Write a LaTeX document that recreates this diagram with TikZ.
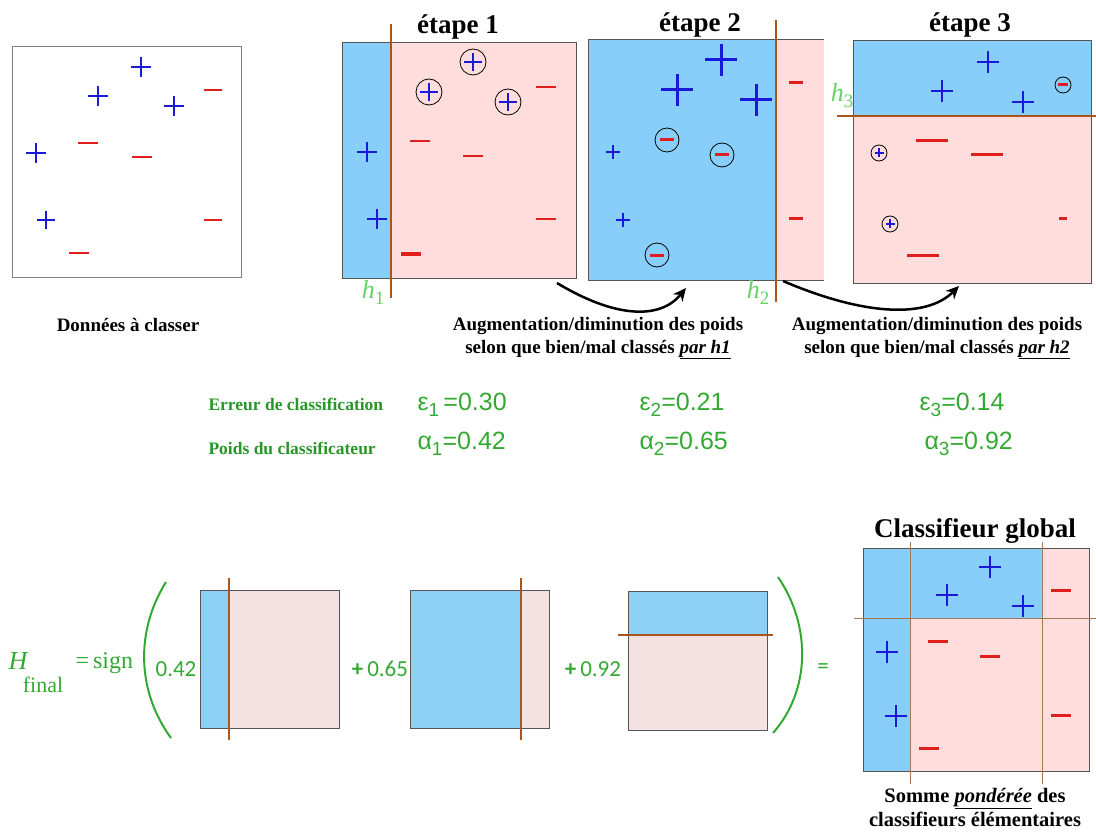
\documentclass[tikz,border=0pt]{standalone}
\usepackage{fontspec}
\setmainfont{Liberation Serif}
\setsansfont{Liberation Sans}
\newfontfamily\carl{Carlito}
\usetikzlibrary{arrows.meta}
\definecolor{pblue}{RGB}{25,25,215}
\definecolor{mred}{RGB}{225,30,30}
\definecolor{fblue}{RGB}{135,206,250}
\definecolor{fpink}{RGB}{255,221,221}
\definecolor{fblueb}{RGB}{140,208,245}
\definecolor{fpinkb}{RGB}{244,226,226}
\definecolor{hbrown}{RGB}{170,85,30}
\definecolor{tgreen}{RGB}{40,150,40}
\definecolor{fgreen}{RGB}{50,170,50}
\definecolor{hgreen}{RGB}{100,210,100}
\definecolor{bord}{RGB}{85,85,85}
\newcommand\mypl[4]{\draw[pblue,line width=#4pt] (#1-#3,#2) -- (#1+#3,#2) (#1,#2-#3) -- (#1,#2+#3);}
\newcommand\mymi[4]{\draw[mred,line width=#4pt] (#1-#3,#2) -- (#1+#3,#2);}
\newcommand\mycir[3]{\draw[black,line width=0.8pt] (#1,#2) circle (#3pt);}
\begin{document}
\begin{tikzpicture}[x=1pt,y=-1pt,
  boxb/.style={draw=bord,line width=1pt},
  hyp/.style={hbrown,line width=2.5pt},
  thinhyp/.style={draw={rgb,255:red,165;green,120;blue,90},line width=1pt},
  ttl/.style={font=\fontsize{27}{30}\selectfont\bfseries},
  captxt/.style={font=\fontsize{19}{23}\selectfont\bfseries,align=center},
  hlab/.style={text=hgreen,font=\fontsize{26}{28}\selectfont},
  glab/.style={text=tgreen,font=\fontsize{17.5}{20}\selectfont\bfseries,anchor=west},
  gval/.style={text=fgreen,font=\sffamily\fontsize{25}{28}\selectfont,anchor=west},
  formtxt/.style={text=fgreen,font=\carl\fontsize{23}{26}\selectfont},
  arr/.style={black,line width=2.5pt,-{Stealth[length=13pt,width=12pt]}},
  paren/.style={fgreen,line width=2pt}]
\useasboundingbox (0,0) rectangle (1096,832);

% ---------- Données à classer
\draw[draw={rgb,255:red,130;green,130;blue,130},line width=1pt] (12,47) rectangle (241,277);
\draw[pblue,line width=1.2pt] (131,67) -- (151,67) (141,57) -- (141,77);
\mypl{98}{96}{10}{2.5}
\mypl{174}{106}{10}{2.5}
\mypl{36}{153}{10}{2.5}
\mypl{46}{220}{9}{2.2}
\mymi{213}{90}{9}{2.2}
\mymi{88}{143}{10}{1.8}
\mymi{142}{157}{10}{2.8}
\mymi{213}{220}{9}{1.8}
\mymi{79}{253}{10}{2.2}
\node[captxt] (lbl0) at (128,325) {Données à classer};

% ---------- étape 1
\fill[fblue] (342,43) rectangle (391,278);
\fill[fpink] (391,43) rectangle (576,278);
\draw[boxb] (342,43) rectangle (576,278);
\draw[hyp] (391,24) -- (391,298);
\node[ttl] (t1) at (458,27) {étape 1};
\node[hlab] (h1) at (373,292) {\textit{h}\raisebox{-6pt}{\fontsize{19}{19}\selectfont 1}};
\mycir{473}{62}{13}\mypl{473}{62}{9}{2.5}
\mycir{429}{92}{13}\mypl{429}{92}{9}{2.5}
\mycir{508}{102}{13}\mypl{508}{102}{9}{2.5}
\mypl{367}{152}{10}{2.5}
\mypl{377}{219}{10}{2.5}
\mymi{546}{87}{10}{2.5}
\mymi{420}{141}{10}{2.5}
\mymi{473}{156}{10}{2.5}
\mymi{546}{219}{10}{2.5}
\mymi{411}{254}{10}{3.5}

% ---------- étape 2
\fill[fblue] (588,40) rectangle (776,280);
\fill[fpink] (776,40) rectangle (824,280);
\draw[boxb] (824,40) -- (588,40) -- (588,280) -- (824,280);
\draw[hyp] (776,20) -- (776,302);
\node[ttl] (t2) at (700,25) {étape 2};
\node[hlab] (h2) at (758,292) {\textit{h}\raisebox{-6pt}{\fontsize{19}{19}\selectfont 2}};
\mypl{721}{60}{16}{3}
\mypl{677}{90}{16}{3}
\mypl{756}{100}{16}{3}
\mypl{613}{152}{7}{2.5}
\mypl{623}{220}{7}{2.5}
\mycir{667}{140}{12}\mymi{667}{140}{7}{3}
\mycir{722}{155}{12}\mymi{722}{155}{7}{3}
\mycir{657}{255}{12}\mymi{657}{255}{7}{3}
\mymi{796}{83}{7}{3}
\mymi{796}{219}{7}{3}

% ---------- étape 3
\fill[fblue] (853,41) rectangle (1091,116);
\fill[fpink] (853,116) rectangle (1091,283);
\draw[boxb] (853,41) rectangle (1091,283);
\draw[hyp] (837,116) -- (1096,116);
\node[ttl] (t3) at (970,25) {étape 3};
\node[hlab] (h3) at (842,96) {\textit{h}\raisebox{-6pt}{\fontsize{19}{19}\selectfont 3}};
\mypl{988}{62}{11}{2.5}
\mypl{942}{91}{11}{2.5}
\mypl{1023}{102}{11}{2.5}
\mycir{1063}{85}{8}\mymi{1063}{85}{5}{3}
\mycir{879}{153}{8}\mypl{879}{153}{4.5}{2}
\mycir{890}{224}{8}\mypl{890}{224}{4.5}{2}
\mymi{932}{141}{16}{3}
\mymi{987}{155}{16}{3}
\mymi{923}{255}{16}{3}
\mymi{1063}{219}{4}{3}

% ---------- arrows
\coordinate (a1s) at (557,283);
\coordinate (a1e) at (686,288);
\coordinate (a2s) at (783,281);
\coordinate (a2e) at (959,286);
\draw[arr] (a1s) .. controls (615,318) and (660,320) .. (a1e);
\draw[arr] (a2s) .. controls (860,314) and (925,320) .. (a2e);

\node[captxt] (c1) at (598,338) {Augmentation/diminution des poids\\selon que bien/mal classés \underline{\textit{par h1}}};
\node[captxt] (c2) at (937,338) {Augmentation/diminution des poids\\selon que bien/mal classés \underline{\textit{par h2}}};

% ---------- errors and weights
\node[glab] (err) at (205,404) {Erreur de classification};
\node[glab] (poi) at (205,448) {Poids du classificateur};
\node[gval] (e1) at (414,405) {ε\raisebox{-6pt}{\fontsize{19}{19}\selectfont 1}\,=0.30};
\node[gval] (e2) at (636,405) {ε\raisebox{-6pt}{\fontsize{19}{19}\selectfont 2}=0.21};
\node[gval] (e3) at (916,405) {ε\raisebox{-6pt}{\fontsize{19}{19}\selectfont 3}=0.14};
\node[gval] (al1) at (414,444) {α\raisebox{-6pt}{\fontsize{19}{19}\selectfont 1}=0.42};
\node[gval] (al2) at (636,444) {α\raisebox{-6pt}{\fontsize{19}{19}\selectfont 2}=0.65};
\node[gval] (al3) at (921,444) {α\raisebox{-6pt}{\fontsize{19}{19}\selectfont 3}=0.92};

% ---------- final formula
\node[text=fgreen,font=\fontsize{26}{28}\selectfont\itshape] (H) at (18,661) {H};
\node[text=fgreen,font=\fontsize{22}{24}\selectfont] (fin) at (43,685) {final};
\node[text=fgreen,font=\fontsize{24}{26}\selectfont,anchor=west] (sg) at (72,663) {=\,sign};
\draw[paren] (166,582) .. controls (136,630) and (136,690) .. (171,738);
\node[formtxt] (w1) at (176,669) {0.42};
\fill[fblueb] (200,590) rectangle (229,728);
\fill[fpinkb] (229,590) rectangle (339,728);
\draw[boxb] (200,590) rectangle (339,728);
\draw[hyp] (229,578) -- (229,740);
\node[formtxt] (w2) at (380,669) {\textbf{+}\,0.65};
\fill[fblueb] (410,590) rectangle (521,728);
\fill[fpinkb] (521,590) rectangle (549,728);
\draw[boxb] (410,590) rectangle (549,728);
\draw[hyp] (521,578) -- (521,740);
\node[formtxt] (w3) at (593,669) {\textbf{+}\,0.92};
\fill[fblueb] (628,591) rectangle (767,635);
\fill[fpinkb] (628,635) rectangle (767,730);
\draw[boxb] (628,591) rectangle (767,730);
\draw[hyp] (618,635) -- (773,635);
\draw[paren] (778,577) .. controls (811,625) and (811,690) .. (773,733);
\node[formtxt] (eq) at (823,669) {=};

% ---------- global classifier
\fill[fblue] (863,548) rectangle (910,771);
\fill[fblue] (910,548) rectangle (1042,618);
\fill[fpink] (910,618) rectangle (1042,771);
\fill[fpink] (1042,548) rectangle (1089,771);
\draw[boxb] (863,548) rectangle (1089,771);
\draw[thinhyp] (910,542) -- (910,784) (1042,542) -- (1042,784) (854,618) -- (1096,618);
\node[ttl] (tg) at (975,531) {Classifieur global};
\mypl{990}{567}{11}{2.5}
\mypl{947}{595}{11}{2.5}
\mypl{1023}{606}{11}{2.5}
\mypl{887}{652}{11}{2.5}
\mypl{896}{716}{11}{2.5}
\mymi{1061}{590}{10}{3}
\mymi{938}{641}{10}{3}
\mymi{990}{656}{10}{3}
\mymi{1061}{715}{10}{3}
\mymi{929}{748}{10}{3}
\node[font=\fontsize{20.5}{24}\selectfont\bfseries,align=center] (cg) at (975,807) {Somme \underline{\textit{pondérée}} des\\classifieurs élémentaires};
\end{tikzpicture}
\end{document}
